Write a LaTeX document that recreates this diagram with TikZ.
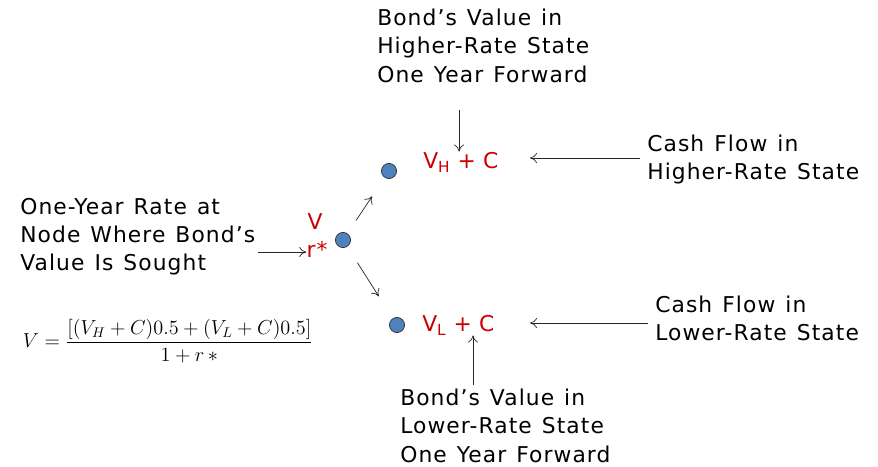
\documentclass[tikz,border=0pt]{standalone}
\usepackage{fontspec}
\newfontfamily\vfont[LetterSpace=5, WordSpace=1.25]{DejaVu Sans}
\definecolor{bondred}{RGB}{204,0,0}
\definecolor{dotblue}{RGB}{79,129,189}
\usetikzlibrary{arrows.meta, positioning, calc}

\begin{document}
\begin{tikzpicture}[x=0.025cm, y=-0.025cm,
    every node/.style={font=\vfont\fontsize{15.5}{20}\selectfont, inner sep=0pt},
    label/.style={align=left, anchor=north west},
    val/.style={text=bondred},
    dot/.style={circle, draw=black!80, fill=dotblue, minimum size=0.38cm, line width=0.5pt},
    arr/.style={-{To[length=5pt, width=7pt]}, line width=0.5pt, black!85}
]
\useasboundingbox (0,0) rectangle (878,466);
% tree
\node[dot] (n0) at (343,240) {};
\node[dot] (nh) at (389,171) {};
\node[dot] (nl) at (397,325) {};
\node[val] (v) at (315,222) {V};
\node[val] (r) at (317,249) {r*};
\node[val, anchor=west] (vh) at (423,162) {V\textsubscript{H}\,\,+\,\,C};
\node[val, anchor=west] (vl) at (422,325) {V\textsubscript{L}\,\,+\,\,C};
% descriptions
\node[label] (bh) at (377,9) {Bond’s Value in\\Higher-Rate State\\One Year Forward};
\node[label] (ch) at (647,135) {Cash Flow in\\Higher-Rate State};
\node[label] (cl) at (655,296) {Cash Flow in\\Lower-Rate State};
\node[label] (bl) at (400,389) {Bond’s Value in\\Lower-Rate State\\One Year Forward};
\node[label] (one) at (20,198) {One-Year Rate at\\Node Where Bond’s\\Value Is Sought};
% formula
\node (eq) at (168,341) {\fontsize{14.5}{16}\selectfont
  $\displaystyle V=\frac{\bigl[(V_H+C)0.5+(V_L+C)0.5\bigr]}{1+r\,{*}}$};
% free ends of the arrows
\coordinate (th) at (459,110);
\coordinate (tl) at (473,385);
\coordinate (hh) at (640,158);
\coordinate (hl) at (648,323);
\coordinate (lo) at (258,252);
% arrows
\draw[arr, shorten <=11pt, shorten >=16pt] (n0) -- (nh);
\draw[arr, shorten <=13.5pt, shorten >=18.5pt] (n0) -- (nl);
\draw[arr] (th) -- (th |- vh.north);
\draw[arr] (hh) -- (530,158);
\draw[arr] (hl) -- (530,323);
\draw[arr] (tl) -- (tl |- vl.south);
\draw[arr] (lo) -- (lo -| r.west);
\end{tikzpicture}
\end{document}
